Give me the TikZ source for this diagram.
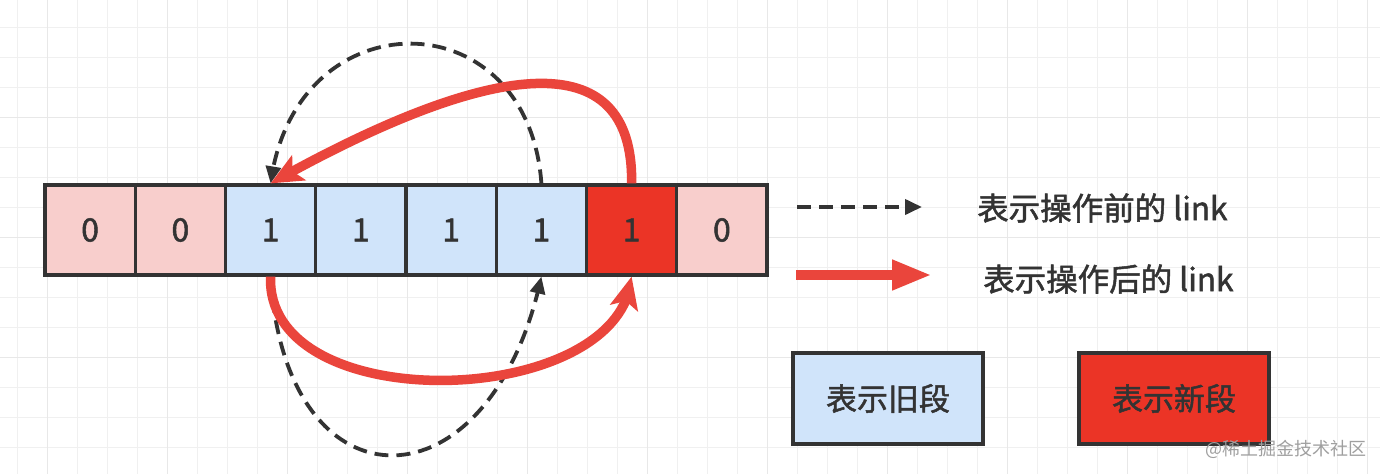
\documentclass[tikz,border=0pt]{standalone}
\usepackage{fontspec}
\setmainfont{Noto Sans CJK SC}[BoldFont=Noto Sans CJK SC, BoldFeatures={FakeBold=1.6}]
\usetikzlibrary{arrows.meta,bending}
\definecolor{pinkc}{RGB}{248,206,204}
\definecolor{bluec}{RGB}{208,228,250}
\definecolor{redc}{RGB}{235,52,38}
\definecolor{redl}{RGB}{234,69,60}
\definecolor{darkc}{RGB}{51,51,51}
\definecolor{gridc}{RGB}{240,240,240}
\definecolor{gridm}{RGB}{232,232,232}
\tikzset{
  cell/.style={draw=darkc, line width=3.2pt, minimum width=90.25pt, minimum height=90pt, inner sep=0pt, text=darkc, font=\fontsize{32}{34}\selectfont\bfseries},
  legbox/.style={draw=darkc, line width=3.2pt, minimum width=190pt, minimum height=91pt, inner sep=0pt, text=darkc, font=\fontsize{31}{36}\selectfont\bfseries},
  legtext/.style={anchor=west, inner sep=0pt, text=darkc, font=\fontsize{31.5}{34}\selectfont\bfseries},
  dasharrow/.style={draw=darkc, line width=3.8pt, dash pattern=on 14pt off 8pt, -{Triangle[length=17pt,width=15pt]}},
  redarrow/.style={draw=redl, line width=9.5pt, -{Stealth[length=32pt,width=28pt,inset=7pt]}},
  redleg/.style={draw=redl, line width=10pt, -{Triangle[length=40pt,width=28pt]}},
}
\begin{document}
\begin{tikzpicture}[x=1pt,y=-1pt]
\useasboundingbox (0,0) rectangle (1380,474);
\fill[white] (0,0) rectangle (1380,474);
% grid
\foreach \x in {17,47,...,1380} \draw[gridc, line width=1pt] (\x,0) -- (\x,474);
\foreach \y in {27,57,...,474} \draw[gridc, line width=1pt] (0,\y) -- (1380,\y);
\foreach \x in {47,167,...,1380} \draw[gridm, line width=1pt] (\x,0) -- (\x,474);
\foreach \y in {117,237,357} \draw[gridm, line width=1pt] (0,\y) -- (1380,\y);
% cells
\node[cell, fill=pinkc] (c1) at (90.1,230) {0};
\node[cell, fill=pinkc] (c2) at (180.4,230) {0};
\node[cell, fill=bluec] (c3) at (270.6,230) {1};
\node[cell, fill=bluec] (c4) at (360.9,230) {1};
\node[cell, fill=bluec] (c5) at (451.1,230) {1};
\node[cell, fill=bluec] (c6) at (541.4,230) {1};
\node[cell, fill=redc] (c7) at (631.6,230) {1};
\node[cell, fill=pinkc] (c8) at (721.9,230) {0};
% links before
\draw[dasharrow] (c6.north) .. controls (528,-3) and (295,-3) .. (c3.north);
\draw[dasharrow] (c3.south) .. controls (285,515) and (490,515) .. (c6.south);
% links after
\draw[redarrow] (c7.north) .. controls (634,35) and (480,66) .. (c3.north);
\draw[redarrow] (c3.south) .. controls (265,420) and (622,410) .. (c7.south);
% legend
\coordinate (la) at (797,207);
\coordinate (lb) at (922,207);
\coordinate (lc) at (796,275);
\coordinate (ld) at (932,275);
\draw[dasharrow] (la) -- (lb);
\draw[redleg] (lc) -- (ld);
\node[legtext] (t1) at (977,208) {表示操作前的 link};
\node[legtext] (t2) at (983,279) {表示操作后的 link};
\node[legbox, fill=bluec] (old) at (888,398.5) {表示旧段};
\node[legbox, fill=redc] (new) at (1174,398.5) {表示新段};
\node[anchor=west, inner sep=0pt, text=gray!75, font=\fontsize{18}{20}\selectfont] (wm) at (1205,449) {@稀土掘金技术社区};
\end{tikzpicture}
\end{document}
